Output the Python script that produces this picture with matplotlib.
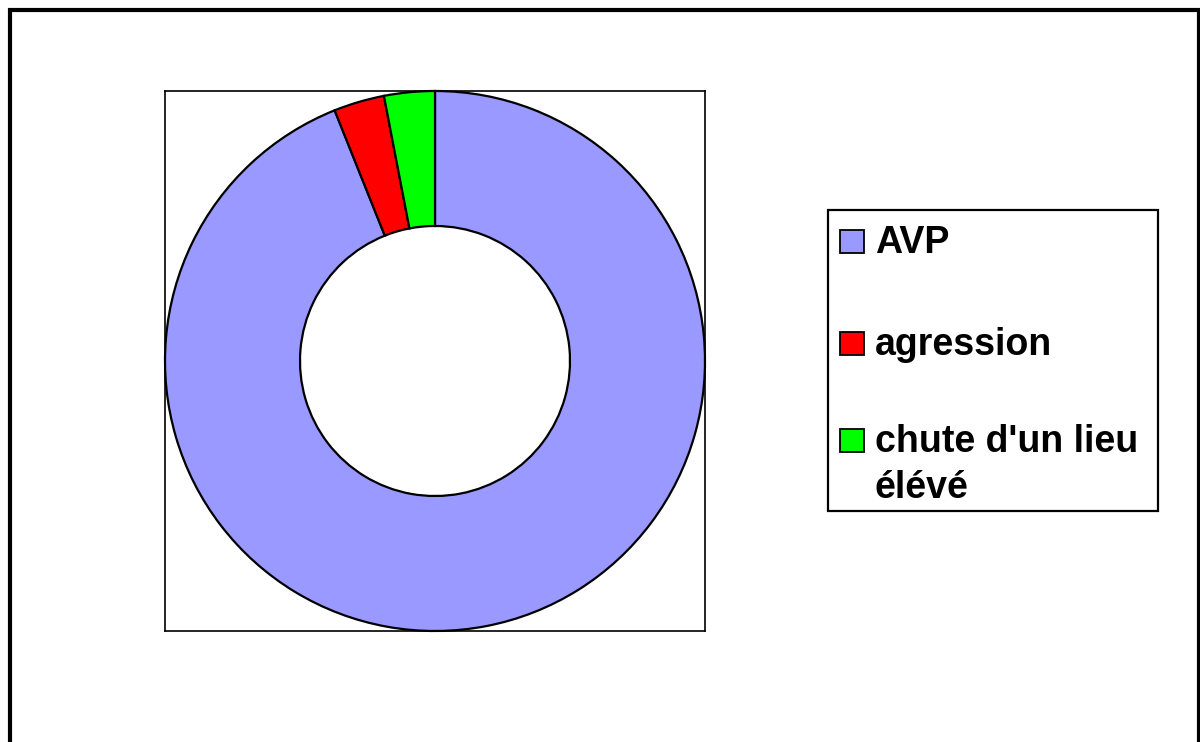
import matplotlib
matplotlib.use("Agg")
import matplotlib.pyplot as plt
from matplotlib.patches import Rectangle

categories = ["AVP", "agression", "chute d'un lieu\nélévé"]
values = [31, 1, 1]
colors = ["#9999FF", "#FF0000", "#00FF00"]

W, H = 1200, 742
fig = plt.figure(figsize=(W / 100, H / 100), dpi=100)
fig.patch.set_facecolor("white")

def fx(x):
    return x / W

def fy(y):
    return 1 - y / H

# outer frame (bottom runs off the picture)
fig.patches.append(Rectangle((fx(10), fy(800)), fx(1199) - fx(10), fy(10) - fy(800),
                             transform=fig.transFigure, fill=False, lw=3.0,
                             edgecolor="black", clip_on=False))

# plot area
ax = fig.add_axes([fx(165), fy(631), fx(705) - fx(165), fy(91) - fy(631)])
ax.pie(values, colors=colors, startangle=90, counterclock=False, radius=1.0,
       wedgeprops=dict(width=0.5, edgecolor="black", linewidth=1.6))
ax.set_xlim(-1, 1)
ax.set_ylim(-1, 1)
ax.set_aspect("auto")
ax.set_xticks([])
ax.set_yticks([])
ax.set_axis_on()
ax.set_frame_on(True)
for s in ax.spines.values():
    s.set_visible(True)
    s.set_linewidth(1.2)
    s.set_color("black")

# legend box
fig.patches.append(Rectangle((fx(828), fy(511)), fx(1158) - fx(828), fy(210) - fy(511),
                             transform=fig.transFigure, fill=True, facecolor="white",
                             lw=1.6, edgecolor="black"))
baselines = [253, 355, 452]
for lab, col, b in zip(categories, colors, baselines):
    fig.patches.append(Rectangle((fx(840), fy(b)), fx(864) - fx(840), fy(b - 23) - fy(b),
                                 transform=fig.transFigure, facecolor=col,
                                 edgecolor="black", lw=1.3))
    for i, ln in enumerate(lab.split("\n")):
        fig.text(fx(875), fy(b + 46 * i), ln, ha="left", va="baseline", fontsize=27,
                 fontweight="bold", family="Liberation Sans")

fig.savefig("out.png", dpi=100)
